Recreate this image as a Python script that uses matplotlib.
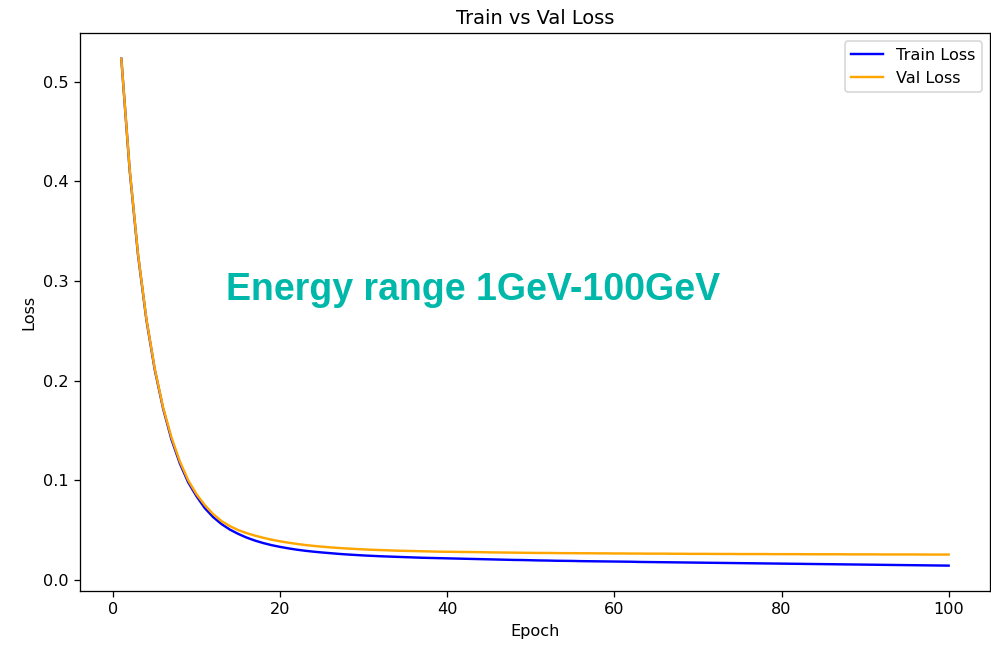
import matplotlib
matplotlib.use("Agg")
import matplotlib.pyplot as plt

epochs = list(range(1, 101))

train_loss = [
    0.523, 0.411, 0.326, 0.261, 0.211, 0.172, 0.141, 0.117, 0.098, 0.084,
    0.072, 0.063, 0.056, 0.0505, 0.0462, 0.0425, 0.0395, 0.0370, 0.0349, 0.0332,
    0.0317, 0.0304, 0.0293, 0.0284, 0.0276, 0.0269, 0.0262, 0.0256, 0.0251, 0.0246,
    0.0242, 0.0238, 0.0235, 0.0232, 0.0229, 0.0226, 0.0223, 0.0221, 0.0219, 0.0217,
    0.0215, 0.0213, 0.0211, 0.0209, 0.0207, 0.0205, 0.0203, 0.0201, 0.0200, 0.0198,
    0.0196, 0.0195, 0.0193, 0.0192, 0.0191, 0.0189, 0.0188, 0.0187, 0.0186, 0.0185,
    0.0184, 0.0183, 0.0181, 0.0180, 0.0179, 0.0178, 0.0177, 0.0176, 0.0175, 0.0174,
    0.0173, 0.0172, 0.0171, 0.0170, 0.0169, 0.0168, 0.0167, 0.0166, 0.0165, 0.0164,
    0.0163, 0.0162, 0.0161, 0.0160, 0.0159, 0.0158, 0.0157, 0.0156, 0.0155, 0.0154,
    0.0153, 0.0152, 0.0151, 0.0150, 0.0149, 0.0148, 0.0147, 0.0146, 0.0145, 0.0144,
]

val_loss = [
    0.523, 0.412, 0.327, 0.262, 0.212, 0.173, 0.143, 0.119, 0.100, 0.086,
    0.075, 0.066, 0.059, 0.054, 0.050, 0.047, 0.0445, 0.0423, 0.0404, 0.0388,
    0.0374, 0.0362, 0.0351, 0.0342, 0.0334, 0.0327, 0.0321, 0.0316, 0.0311, 0.0307,
    0.0303, 0.0300, 0.0297, 0.0294, 0.0292, 0.0290, 0.0288, 0.0286, 0.0284, 0.0283,
    0.0282, 0.0281, 0.0280, 0.0279, 0.0277, 0.0276, 0.0275, 0.0274, 0.0273, 0.0272,
    0.0271, 0.0271, 0.0270, 0.0269, 0.0269, 0.0268, 0.0268, 0.0267, 0.0267, 0.0266,
    0.0266, 0.0265, 0.0265, 0.0264, 0.0264, 0.0264, 0.0263, 0.0263, 0.0262, 0.0262,
    0.0262, 0.0261, 0.0261, 0.0261, 0.0260, 0.0260, 0.0260, 0.0260, 0.0259, 0.0259,
    0.0259, 0.0259, 0.0258, 0.0258, 0.0258, 0.0258, 0.0258, 0.0257, 0.0257, 0.0257,
    0.0257, 0.0256, 0.0256, 0.0256, 0.0256, 0.0256, 0.0255, 0.0255, 0.0255, 0.0255,
]

title = "Train vs Val Loss"
annotation = "Energy range 1GeV-100GeV"

DPI = 116
fig = plt.figure(figsize=(992 / DPI, 647 / DPI), dpi=DPI)
ax = fig.add_axes([0.0806, 0.0866, 0.9174, 0.8619])

ax.plot(epochs, train_loss, color="blue", linewidth=1.5, label="Train Loss")
ax.plot(epochs, val_loss, color="orange", linewidth=1.5, label="Val Loss")

ax.set_title(title)
ax.set_xlabel("Epoch")
ax.set_ylabel("Loss")
ax.legend(loc="upper right")

fig.text(226 / 992, 1 - 300 / 647, annotation, color="#00B8AA",
         fontsize=23.3, fontweight="bold", family="Liberation Sans",
         ha="left", va="baseline")

fig.savefig("out.png", dpi=DPI)
